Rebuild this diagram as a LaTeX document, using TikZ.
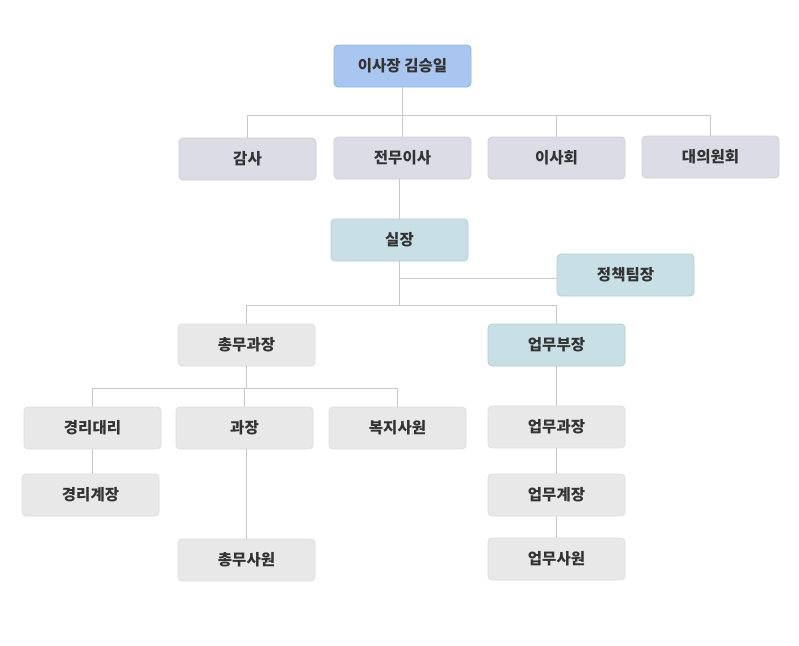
\documentclass[tikz,border=0pt]{standalone}
\usepackage{fontspec}
\setmainfont{Noto Sans CJK KR}
\definecolor{linec}{HTML}{C8C8C8}
\definecolor{txt}{HTML}{333333}
\definecolor{grayf}{HTML}{E8E8E8}
\definecolor{grayd}{HTML}{DDDDDD}
\definecolor{purf}{HTML}{DCDCE6}
\definecolor{purd}{HTML}{CFCFDB}
\definecolor{bluef}{HTML}{A9C6F0}
\definecolor{blued}{HTML}{8DB3E9}
\definecolor{tealf}{HTML}{C8DFE6}
\definecolor{teald}{HTML}{B2CFD9}
\tikzset{
  box/.style={rounded corners=4pt, minimum width=137pt, minimum height=42pt,
    inner sep=0pt, text=txt, font=\fontsize{15.5}{18}\selectfont\bfseries, line width=0.8pt},
  graybox/.style={box, fill=grayf, draw=grayd},
  purbox/.style={box, fill=purf, draw=purd},
  bluebox/.style={box, fill=bluef, draw=blued},
  tealbox/.style={box, fill=tealf, draw=teald},
  conn/.style={draw=linec, line width=0.9pt}
}
\begin{document}
\begin{tikzpicture}[x=1pt,y=-1pt]
\useasboundingbox[fill=white] (0,0) rectangle (799,645);
% nodes
\node[bluebox] (top) at (402.5,66) {이사장 김승일};
\node[purbox] (gamsa) at (247.5,159) {감사};
\node[purbox] (jeonmu) at (402.5,158) {전무이사};
\node[purbox] (isahoe) at (556.5,158) {이사회};
\node[purbox] (daeui) at (710.5,157) {대의원회};
\node[tealbox] (silchang) at (399.5,240) {실장};
\node[tealbox] (jeongchaek) at (625.5,275) {정책팀장};
\node[graybox] (chongmu) at (246.5,345) {총무과장};
\node[tealbox] (eopmu) at (556.5,345) {업무부장};
\node[graybox] (gyeongri) at (92.5,428) {경리대리};
\node[graybox] (gwajang) at (244.5,428) {과장};
\node[graybox] (bokji) at (397.5,428) {복지사원};
\node[graybox] (gyeonggye) at (90.5,495) {경리계장};
\node[graybox] (chongsa) at (246.5,560) {총무사원};
\node[graybox] (eopgwa) at (556.5,427) {업무과장};
\node[graybox] (eopgye) at (556.5,495) {업무계장};
\node[graybox] (eopsa) at (556.5,559) {업무사원};
% junction levels
\coordinate (h1) at (0,115);
\coordinate (h2) at (0,305);
\coordinate (h3) at (0,388);
% connectors
\draw[conn] (top.south) -- (jeonmu.north);
\draw[conn] (gamsa.north) -- (gamsa.north |- h1) -- (daeui.north |- h1) -- (daeui.north);
\draw[conn] (isahoe.north) -- (isahoe.north |- h1);
\draw[conn] (silchang.north |- jeonmu.south) -- (silchang.north);
\draw[conn] (silchang.south) -- (silchang.south |- h2);
\draw[conn] (silchang.south |- 0,278) -- (jeongchaek.west |- 0,278);
\draw[conn] (chongmu.north) -- (chongmu.north |- h2) -- (eopmu.north |- h2) -- (eopmu.north);
\draw[conn] (chongmu.south) -- (chongmu.south |- h3);
\draw[conn] (gyeongri.north) -- (gyeongri.north |- h3) -- (bokji.north |- h3) -- (bokji.north);
\draw[conn] (gwajang.north |- h3) -- (gwajang.north);
\draw[conn] (gyeongri.south) -- (gyeongri.south |- gyeonggye.north);
\draw[conn] (chongsa.north |- gwajang.south) -- (chongsa.north);
\draw[conn] (eopmu.south) -- (eopgwa.north);
\draw[conn] (eopgwa.south) -- (eopgye.north);
\draw[conn] (eopgye.south) -- (eopsa.north);
\end{tikzpicture}
\end{document}
